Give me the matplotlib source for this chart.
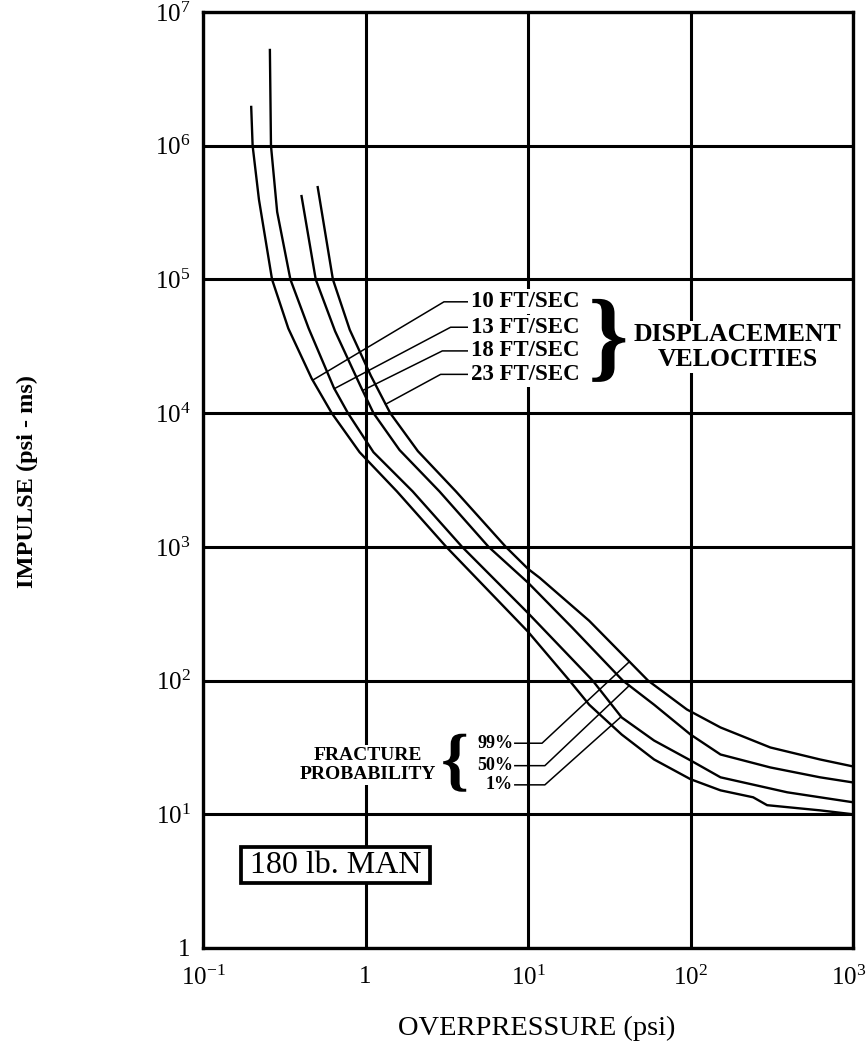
import numpy as np
import matplotlib
matplotlib.use("Agg")
import matplotlib.pyplot as plt
import matplotlib.transforms as mtrans
from matplotlib.patches import Rectangle, PathPatch
from matplotlib.textpath import TextPath
from matplotlib.font_manager import FontProperties

plt.rcParams['font.family'] = ['Liberation Serif', 'DejaVu Serif']
plt.rcParams['mathtext.fontset'] = 'custom'
plt.rcParams['mathtext.rm'] = 'Liberation Serif'
plt.rcParams['mathtext.it'] = 'Liberation Serif:italic'
plt.rcParams['mathtext.bf'] = 'Liberation Serif:bold'

# overpressure (psi) / impulse (psi-ms), one pair per velocity
p_10 = [0.198, 0.202, 0.221, 0.266, 0.335, 0.466, 0.62, 0.92, 1.56, 3.14, 10, 18, 23.8, 37.7, 59.7, 100, 153, 243, 296, 627, 1000]
i_10 = [1.95e6, 1.0e6, 3.95e5, 1.0e5, 4.3e4, 1.82e4, 1.0e4, 5.1e3, 2.6e3, 1000, 232, 100, 66, 39.5, 25.7, 18.3, 15.1, 13.4, 11.7, 10.7, 10.0]

p_13 = [0.258, 0.262, 0.286, 0.345, 0.447, 0.64, 0.78, 1.12, 1.95, 3.93, 10, 25, 37.7, 59.7, 100, 153, 394, 627, 1000]
i_13 = [5.2e6, 1.0e6, 3.2e5, 1.0e5, 4.3e4, 1.54e4, 1.0e4, 5.1e3, 2.6e3, 1000, 320, 100, 53, 35.6, 25.3, 18.9, 14.6, 13.4, 12.3]

p_18 = [0.404, 0.494, 0.65, 0.93, 1.12, 1.62, 2.85, 5.72, 10, 18.7, 38.3, 59.7, 100, 153, 310, 627, 1000]
i_18 = [4.2e5, 1.0e5, 4.1e4, 1.6e4, 1.0e4, 5.3e3, 2.6e3, 1000, 540, 249, 100, 66, 39.5, 28.0, 22.4, 18.9, 17.3]

p_23 = [0.508, 0.63, 0.80, 1.08, 1.42, 2.1, 3.6, 7.3, 10, 11.8, 23.8, 41.5, 54.8, 95, 153, 310, 627, 1000]
i_23 = [4.9e5, 1.0e5, 4.2e4, 1.9e4, 1.0e4, 5.2e3, 2.6e3, 1000, 685, 587, 280, 141, 100, 60.8, 44.6, 31.6, 25.7, 22.8]

vel_labels = ['10 FT/SEC', '13 FT/SEC', '18 FT/SEC', '23 FT/SEC']
prob_labels = ['99%', '50%', '1%']

x_ticks = [0.1, 1, 10, 100, 1000]
x_ticklabels = [r'10$^{\mathregular{-1}}$', '1', r'10$^{\mathregular{1}}$', r'10$^{\mathregular{2}}$', r'10$^{\mathregular{3}}$']
y_ticks = [1, 10, 1e2, 1e3, 1e4, 1e5, 1e6, 1e7]
y_ticklabels = ['1'] + [r'10$^{\mathregular{%d}}$' % k for k in range(1, 8)]

curves = [(p_10, i_10), (p_13, i_13), (p_18, i_18), (p_23, i_23)]


def on_curve(px, py, x):
    # point on a curve (log-log) where a leader line ends
    lx = np.log10(px)
    order = np.argsort(lx)
    ly = np.interp(np.log10(x), lx[order], np.log10(py)[order])
    return 10 ** ly


def brace(ax, ch, x, y, w, h):
    tp = TextPath((0, 0), ch, size=1, prop=FontProperties(family='Liberation Serif', weight='bold'))
    e = tp.get_extents()
    tr = (mtrans.Affine2D().translate(-(e.x0 + e.x1) / 2, -(e.y0 + e.y1) / 2)
          .scale(w / e.width, h / e.height)
          + mtrans.ScaledTranslation(x, y, ax.transData))
    ax.add_patch(PathPatch(tp, transform=tr, facecolor='black', edgecolor='none',
                           zorder=5, clip_on=False))


fig = plt.figure(figsize=(8.68, 10.41), dpi=100)
ax = fig.add_axes([203 / 868, 93 / 1041, 650 / 868, 936 / 1041])
ax.set_xscale('log')
ax.set_yscale('log')
ax.set_xlim(0.1, 1000)
ax.set_ylim(1, 1e7)
ax.minorticks_off()
ax.set_xticks(x_ticks)
# last x label is placed by hand so it stays inside the picture
ax.set_xticklabels(x_ticklabels[:-1] + [''], fontsize=18)
ax.text(1.021, -18 / 936, x_ticklabels[-1], transform=ax.transAxes, fontsize=18,
        ha='right', va='top')
ax.set_yticks(y_ticks)
ax.set_yticklabels(y_ticklabels, fontsize=18)
ax.tick_params(length=0)
ax.tick_params(axis='x', pad=13)
ax.tick_params(axis='y', pad=9)
ax.grid(True, color='black', lw=2.2)
for s in ax.spines.values():
    s.set_linewidth(2.4)

for px, py in curves:
    ax.plot(px, py, color='black', lw=1.7, zorder=3)

txt_box = dict(facecolor='white', edgecolor='none', pad=1.5)

# displacement velocity labels and leaders
vel_y = [6.8e4, 4.39e4, 2.92e4, 1.95e4]
vel_knee = [3.04, 3.34, 2.97, 2.9]
vel_end = [0.473, 0.643, 0.96, 1.33]
for k in range(4):
    px, py = curves[k]
    ye = on_curve(px, py, vel_end[k])
    ax.plot([4.4, vel_knee[k], vel_end[k]], [vel_y[k], vel_y[k], ye], color='black', lw=1.1, zorder=3)
    ax.text(4.43, vel_y[k], vel_labels[k], fontsize=16.5, fontweight='bold', ha='left', va='center',
            bbox=txt_box, zorder=4)
brace(ax, '}', 31.4, 3.5e4, 33, 83)
ax.text(195, 3.9e4, 'DISPLACEMENT', fontsize=18.5, fontweight='bold', ha='center', va='center',
        bbox=txt_box, zorder=4)
ax.text(195, 2.53e4, 'VELOCITIES', fontsize=18.5, fontweight='bold', ha='center', va='center',
        bbox=txt_box, zorder=4)

# fracture probability labels and leaders
prob_y = [34.0, 23.1, 16.6]
prob_knee = [12.2, 12.7, 12.7]
prob_end = [42.1, 42.0, 37.4]
for k in range(3):
    px, py = curves[3 - k]
    ye = on_curve(px, py, prob_end[k])
    ax.plot([8.3, prob_knee[k], prob_end[k]], [prob_y[k], prob_y[k], ye], color='black', lw=1.1, zorder=3)
    ax.text(8.1, prob_y[k], prob_labels[k], fontsize=13, fontweight='bold', ha='right', va='center',
            zorder=4)
brace(ax, '{', 3.54, 24.3, 23, 58)
ax.text(1.03, 27.6, 'FRACTURE', fontsize=14, fontweight='bold', ha='center', va='center',
        bbox=txt_box, zorder=4)
ax.text(1.03, 20.0, 'PROBABILITY', fontsize=14, fontweight='bold', ha='center', va='center',
        bbox=txt_box, zorder=4)

# 180 lb. MAN box
ax.add_patch(Rectangle((0.171, 3.05), 2.5 - 0.171, 5.66 - 3.05, facecolor='white',
                       edgecolor='black', lw=2.7, zorder=4))
ax.text(0.655, 4.15, '180 lb. MAN', fontsize=23, ha='center', va='center', zorder=5)

fig.text(27 / 868, 1 - 481 / 1041, 'IMPULSE (psi - ms)', fontsize=17.5, fontweight='bold',
         rotation=90, ha='center', va='center')
fig.text(537 / 868, 6 / 1041, 'OVERPRESSURE (psi)', fontsize=20.5, ha='center', va='baseline')

fig.savefig('out.png', dpi=100)
